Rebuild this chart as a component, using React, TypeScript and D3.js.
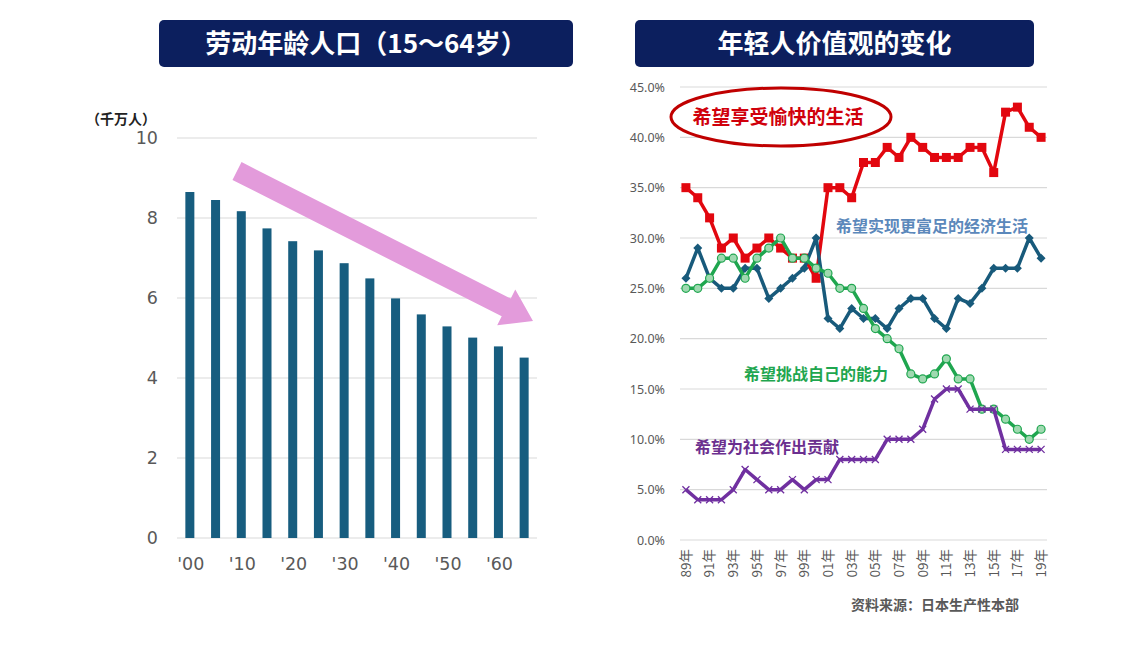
import React, { useEffect, useRef } from 'react';
import * as d3 from 'd3';

// Working-age population (15-64), tens of millions
const popYears = ['00', '05', '10', '15', '20', '25', '30', '35', '40', '45', '50', '55', '60', '65'];
const popValues = [8.65, 8.45, 8.17, 7.74, 7.42, 7.19, 6.87, 6.49, 5.99, 5.59, 5.29, 5.01, 4.79, 4.51];
const popLabelYears = ['00', '10', '20', '30', '40', '50', '60'];
const popTicks = [0, 2, 4, 6, 8, 10];

// Survey of young people's values, %
const surveyYears = [
  '89', '90', '91', '92', '93', '94', '95', '96', '97', '98', '99', '00', '01', '02', '03', '04',
  '05', '06', '07', '08', '09', '10', '11', '12', '13', '14', '15', '16', '17', '18', '19',
];
const enjoyLife = [35, 34, 32, 29, 30, 28, 29, 30, 29, 28, 28, 26, 35, 35, 34, 37.5, 37.5, 39, 38, 40, 39, 38, 38, 38, 39, 39, 36.5, 42.5, 43, 41, 40];
const richerLife = [26, 29, 26, 25, 25, 27, 27, 24, 25, 26, 27, 30, 22, 21, 23, 22, 22, 21, 23, 24, 24, 22, 21, 24, 23.5, 25, 27, 27, 27, 30, 28];
const challenge = [25, 25, 26, 28, 28, 26, 28, 29, 30, 28, 28, 27, 26.5, 25, 25, 23, 21, 20, 19, 16.5, 16, 16.5, 18, 16, 16, 13, 13, 12, 11, 10, 11];
const society = [5, 4, 4, 4, 5, 7, 6, 5, 5, 6, 5, 6, 6, 8, 8, 8, 8, 10, 10, 10, 11, 14, 15, 15, 13, 13, 13, 9, 9, 9, 9];
const pctTicks = [0, 5, 10, 15, 20, 25, 30, 35, 40, 45];

const NAVY = '#0c1f5e';
const BAR = '#175d7f';
const GRID = '#d9d9d9';
const AXIS_TEXT = '#595959';
const CJK = '"Noto Sans CJK SC", "Noto Sans", sans-serif';

type Marker = 'square' | 'diamond' | 'circle' | 'cross';

const App: React.FC = () => {
  const svgRef = useRef<SVGSVGElement>(null);

  useEffect(() => {
    if (!svgRef.current) return;
    const root = d3.select(svgRef.current);
    root.selectAll('*').remove();
    root.append('rect').attr('width', 1146).attr('height', 645).attr('fill', 'white');

    // title boxes
    const titles: [number, number, string][] = [
      [159, 414, '劳动年龄人口（15～64岁）'],
      [635, 399, '年轻人价值观的变化'],
    ];
    titles.forEach(([x, w, t]) => {
      root.append('rect').attr('x', x).attr('y', 20).attr('width', w).attr('height', 47).attr('rx', 5).attr('fill', NAVY);
      root
        .append('text')
        .attr('x', x + w / 2)
        .attr('y', 44)
        .attr('dy', '0.36em')
        .attr('text-anchor', 'middle')
        .style('font-family', CJK)
        .style('font-size', '26px')
        .style('font-weight', 700)
        .style('fill', 'white')
        .text(t);
    });

    // ---------- left: bar chart ----------
    const left = root.append('g');
    const bx = d3.scaleBand().domain(popYears).range([177, 537]).paddingInner(0.65).paddingOuter(0.325);
    const by = d3.scaleLinear().domain([0, 10]).range([538, 138]);

    left
      .selectAll('.grid')
      .data(popTicks)
      .enter()
      .append('line')
      .attr('x1', 177)
      .attr('x2', 537)
      .attr('y1', d => by(d))
      .attr('y2', d => by(d))
      .attr('stroke', GRID)
      .attr('stroke-width', 1.2);

    left
      .selectAll('.ytick')
      .data(popTicks)
      .enter()
      .append('text')
      .attr('x', 158)
      .attr('y', d => by(d))
      .attr('dy', '0.36em')
      .attr('text-anchor', 'end')
      .style('font-family', '"DejaVu Sans", Verdana, sans-serif')
      .style('font-size', '17.5px')
      .style('fill', AXIS_TEXT)
      .text(d => d);

    left
      .selectAll('.bar')
      .data(popValues)
      .enter()
      .append('rect')
      .attr('x', (_d, i) => bx(popYears[i]) || 0)
      .attr('width', bx.bandwidth())
      .attr('y', d => by(d))
      .attr('height', d => by(0) - by(d))
      .attr('fill', BAR);

    left
      .selectAll('.xtick')
      .data(popLabelYears)
      .enter()
      .append('text')
      .attr('x', d => (bx(d) || 0) + bx.bandwidth() / 2 + 1)
      .attr('y', 564)
      .attr('dy', '0.36em')
      .attr('text-anchor', 'middle')
      .style('font-family', '"DejaVu Sans", Verdana, sans-serif')
      .style('font-size', '17.5px')
      .style('fill', AXIS_TEXT)
      .text(d => `'${d}`);

    left
      .append('text')
      .attr('x', 86)
      .attr('y', 119)
      .attr('dy', '0.36em')
      .style('font-family', CJK)
      .style('font-size', '14px')
      .style('font-weight', 700)
      .style('fill', '#222')
      .text('（千万人）');

    // pink trend arrow, built along its own axis then rotated
    const ax0 = 237, ay0 = 171, ax1 = 533, ay1 = 321;
    const len = Math.hypot(ax1 - ax0, ay1 - ay0);
    const ang = (Math.atan2(ay1 - ay0, ax1 - ax0) * 180) / Math.PI;
    const shaft = 10, head = 20, headLen = 30;
    left
      .append('polygon')
      .attr(
        'points',
        [
          [0, -shaft],
          [len - headLen, -shaft],
          [len - headLen, -head],
          [len, 0],
          [len - headLen, head],
          [len - headLen, shaft],
          [0, shaft],
        ]
          .map(p => p.join(','))
          .join(' '),
      )
      .attr('transform', `translate(${ax0},${ay0}) rotate(${ang})`)
      .attr('fill', '#e39bdb');

    // ---------- right: line chart ----------
    const right = root.append('g');
    const lx = d3.scaleBand().domain(surveyYears).range([680, 1047]);
    const cx = (i: number) => (lx(surveyYears[i]) || 0) + lx.bandwidth() / 2;
    const ly = d3.scaleLinear().domain([0, 45]).range([540, 87]);

    right
      .selectAll('.grid')
      .data(pctTicks)
      .enter()
      .append('line')
      .attr('x1', 680)
      .attr('x2', 1047)
      .attr('y1', d => ly(d))
      .attr('y2', d => ly(d))
      .attr('stroke', GRID)
      .attr('stroke-width', 1.2);

    right
      .selectAll('.ytick')
      .data(pctTicks)
      .enter()
      .append('text')
      .attr('x', 665)
      .attr('y', d => ly(d))
      .attr('dy', '0.36em')
      .attr('text-anchor', 'end')
      .style('font-family', '"Noto Sans", sans-serif')
      .style('font-size', '12.5px')
      .style('fill', AXIS_TEXT)
      .text(d => `${d.toFixed(1)}%`);

    right
      .selectAll('.xtick')
      .data(surveyYears.filter((_d, i) => i % 2 === 0))
      .enter()
      .append('text')
      .attr('transform', d => `translate(${(lx(d) || 0) + lx.bandwidth() / 2},549) rotate(-90)`)
      .attr('dy', '0.36em')
      .attr('text-anchor', 'end')
      .style('font-family', CJK)
      .style('font-size', '13.5px')
      .style('fill', AXIS_TEXT)
      .text(d => `${d}年`);

    const line = d3
      .line<number>()
      .x((_d, i) => cx(i))
      .y(d => ly(d));

    const drawSeries = (values: number[], color: string, marker: Marker) => {
      const g = right.append('g');
      g.append('path')
        .attr('d', line(values) || '')
        .attr('fill', 'none')
        .attr('stroke', color)
        .attr('stroke-width', 3.5)
        .attr('stroke-linejoin', 'round');
      values.forEach((v, i) => {
        const x = cx(i);
        const y = ly(v);
        if (marker === 'square') {
          g.append('rect').attr('x', x - 4.5).attr('y', y - 4.5).attr('width', 9).attr('height', 9).attr('fill', color);
        } else if (marker === 'diamond') {
          g.append('path')
            .attr('d', `M${x},${y - 4.5}L${x + 4.5},${y}L${x},${y + 4.5}L${x - 4.5},${y}Z`)
            .attr('fill', color);
        } else if (marker === 'circle') {
          g.append('circle')
            .attr('cx', x)
            .attr('cy', y)
            .attr('r', 4)
            .attr('fill', '#9fd9b0')
            .attr('stroke', color)
            .attr('stroke-width', 1.2);
        } else {
          g.append('path')
            .attr('d', `M${x - 3.5},${y - 3.5}L${x + 3.5},${y + 3.5}M${x - 3.5},${y + 3.5}L${x + 3.5},${y - 3.5}`)
            .attr('stroke', color)
            .attr('stroke-width', 1.3);
        }
      });
    };

    drawSeries(enjoyLife, '#e2070f', 'square');
    drawSeries(richerLife, '#185a7b', 'diamond');
    drawSeries(challenge, '#1fa64f', 'circle');
    drawSeries(society, '#7030a0', 'cross');

    // series annotations
    right
      .append('ellipse')
      .attr('cx', 781)
      .attr('cy', 117)
      .attr('rx', 110)
      .attr('ry', 29)
      .attr('fill', 'white')
      .attr('stroke', '#c00000')
      .attr('stroke-width', 3);

    const notes: [number, number, string, string, string][] = [
      [778, 117, '希望享受愉快的生活', '#d0000b', '19px'],
      [932, 226, '希望实现更富足的经济生活', '#5b88bb', '16px'],
      [816, 374, '希望挑战自己的能力', '#1fa64f', '16px'],
      [767, 447, '希望为社会作出贡献', '#6b2f8f', '16px'],
      [935, 605, '资料来源：日本生产性本部', '#595959', '14px'],
    ];
    notes.forEach(([x, y, t, c, s]) => {
      right
        .append('text')
        .attr('x', x)
        .attr('y', y)
        .attr('dy', '0.36em')
        .attr('text-anchor', 'middle')
        .style('font-family', CJK)
        .style('font-size', s)
        .style('font-weight', 700)
        .style('fill', c)
        .text(t);
    });
  }, []);

  return (
    <svg
      ref={svgRef}
      width={1146}
      height={645}
      style={{ position: 'absolute', left: 0, top: 0 }}
    />
  );
};

export default App;
